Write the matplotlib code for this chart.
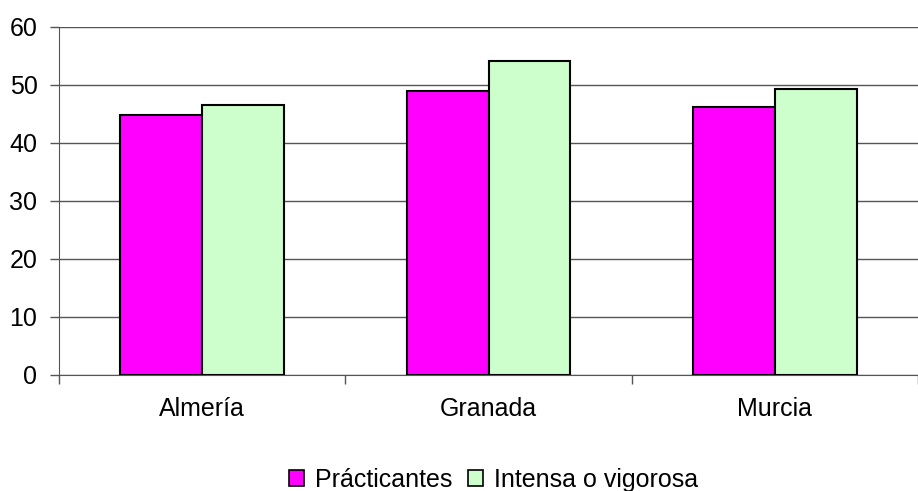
import matplotlib
matplotlib.use("Agg")
import matplotlib.pyplot as plt
import numpy as np

plt.rcParams['font.family'] = ['Liberation Sans', 'DejaVu Sans']

categories = ["Almería", "Granada", "Murcia"]
practicantes = [44.8, 49.0, 46.2]
intensa = [46.5, 54.1, 49.3]
series_names = ["Prácticantes", "Intensa o vigorosa"]
colors = ["#FF00FF", "#CCFFCC"]
yticks = [0, 10, 20, 30, 40, 50, 60]

W, H = 918, 491
fig = plt.figure(figsize=(W/100, H/100), dpi=100)
left, right, top, bottom = 59, 918, 27, 375
catw = 291.5
ax = fig.add_axes([left/W, (H-bottom)/H, (right-left)/W, (bottom-top)/H])

x = np.arange(len(categories))
bw = 1/3.5
ax.bar(x - bw/2, practicantes, bw, color=colors[0], edgecolor='black', linewidth=1.5, label=series_names[0], zorder=3)
ax.bar(x + bw/2, intensa, bw, color=colors[1], edgecolor='black', linewidth=1.5, label=series_names[1], zorder=3)

ax.set_ylim(0, 60)
ax.set_xlim(-0.5, -0.5 + (right-left)/catw)
ax.set_yticks(yticks)
ax.set_yticklabels([str(v) for v in yticks], fontsize=18)
ax.yaxis.grid(True, color='#555555', linewidth=1, zorder=0)
ax.set_axisbelow(True)

ax.set_xticks([-0.5, 0.5, 1.5, 2.5])
ax.set_xticklabels([])
ax.set_xticks(x, minor=True)
ax.set_xticklabels(categories, minor=True, fontsize=18)
ax.tick_params(axis='x', which='minor', length=0, pad=15.5)
ax.tick_params(axis='x', which='major', length=6.5, color='#555555', width=1)
ax.tick_params(axis='y', length=6.5, color='#555555', width=1, pad=9)

for s in ['top', 'right']:
    ax.spines[s].set_visible(False)
ax.spines['left'].set_color('#555555')
ax.spines['bottom'].set_color('#555555')

leg = fig.legend(loc='center', bbox_to_anchor=(493.5/W, 1 - 480/H), ncol=2, frameon=False,
                 fontsize=18, handlelength=0.6, handleheight=0.6, handletextpad=0.44,
                 columnspacing=0.64, borderaxespad=0, borderpad=0)
for h in leg.legend_handles:
    h.set_linewidth(1.2)

fig.savefig("out.png", dpi=100)
